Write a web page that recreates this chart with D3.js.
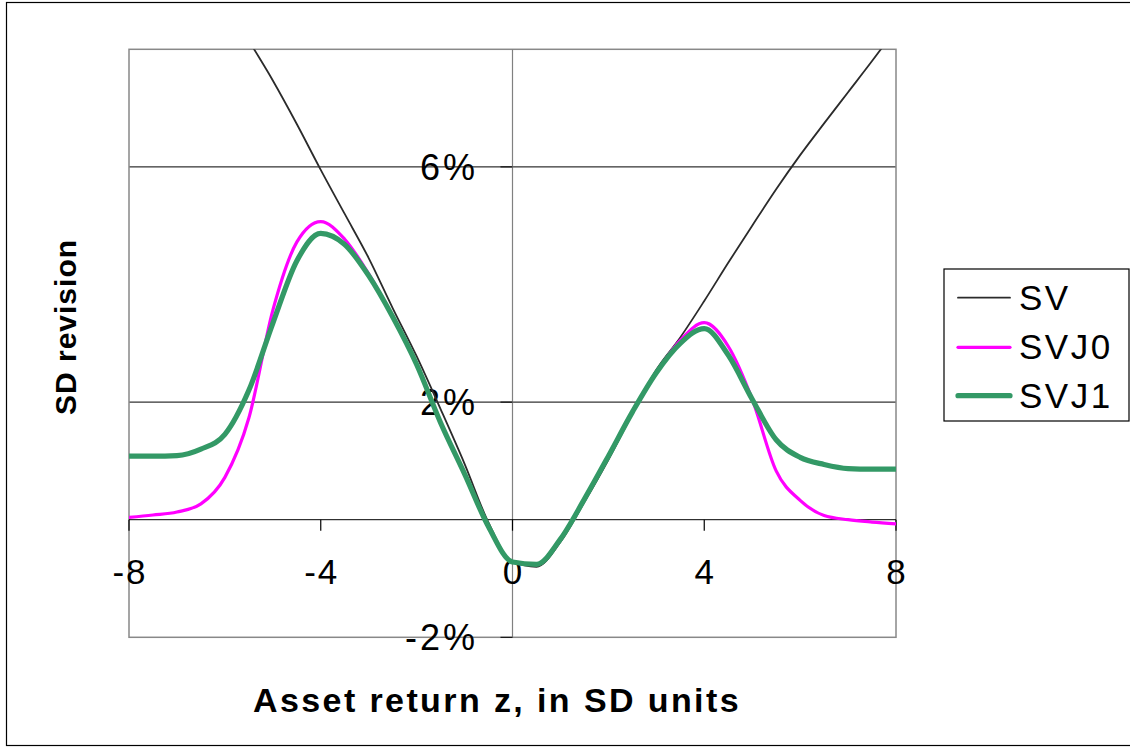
<!DOCTYPE html>
<html><head><meta charset="utf-8">
<script src="https://cdn.jsdelivr.net/npm/d3@7"></script>
<style>
html,body{margin:0;padding:0;background:#fff;}
svg{display:block;font-family:"Liberation Sans",Arial,sans-serif;}
</style></head>
<body><svg id="c" width="1130" height="748"></svg>
<script>
// ---- data ----
const zValues = [-8,-7.5,-7,-6.5,-6,-5.5,-5,-4.5,-4,-3.5,-3,-2.5,-2,-1.5,-1,-0.5,0,0.5,1,1.5,2,2.5,3,3.5,4,4.5,5,5.5,6,6.5,7,7.5,8];
const svValues   = [11.6,10.9,10.2,9.5,8.85,8.15,7.47,6.73,5.95,5.2,4.45,3.6,2.78,1.88,0.95,-0.05,-0.72,-0.8,-0.38,0.3,1.02,1.8,2.55,3.1,3.72,4.37,5.0,5.62,6.2,6.74,7.27,7.8,8.35];
const svj0Values = [0.04,0.08,0.13,0.27,0.72,1.73,3.56,4.72,5.07,4.77,4.18,3.45,2.64,1.65,0.78,-0.12,-0.72,-0.76,-0.33,0.35,1.08,1.83,2.5,3.05,3.35,2.95,2.05,0.83,0.33,0.07,0.0,-0.04,-0.07];
const svj1Values = [1.08,1.08,1.09,1.2,1.45,2.2,3.34,4.4,4.87,4.68,4.15,3.45,2.64,1.65,0.78,-0.12,-0.72,-0.76,-0.33,0.35,1.08,1.83,2.5,3.0,3.25,2.8,2.05,1.36,1.06,0.94,0.87,0.86,0.86];
const seriesNames = ["SV","SVJ0","SVJ1"];
const xTicks = [-8,-4,0,4,8];
const yTicks = [-2,2,6];
const yTickLabels = ["-2%","2%","6%"];
const xTitle = "Asset return z, in SD units";
const yTitle = "SD revision";

// ---- layout ----
const svg = d3.select("#c");
const L=129, R=896, T=49.3, B=637.3;
const x = d3.scaleLinear().domain([-8,8]).range([L,R]);
const y = d3.scaleLinear().domain([-2,8]).range([B,T]);

// outer border
svg.append("rect").attr("x",6.5).attr("y",2.5).attr("width",1130).attr("height",743)
  .attr("fill","none").attr("stroke","#000").attr("stroke-width",1.2);

// gridlines
svg.append("g").selectAll("line").data(yTicks.filter(d=>d>-2)).join("line")
  .attr("x1",L).attr("x2",R).attr("y1",d=>y(d)).attr("y2",d=>y(d))
  .attr("stroke","#000").attr("stroke-width",1);

// plot border
svg.append("rect").attr("x",L).attr("y",T).attr("width",R-L).attr("height",B-T)
  .attr("fill","none").attr("stroke","#888").attr("stroke-width",1.5);

// y axis at z=0
svg.append("line").attr("x1",x(0)).attr("x2",x(0)).attr("y1",T).attr("y2",B)
  .attr("stroke","#808080").attr("stroke-width",1.2);
svg.append("g").selectAll("line").data(yTicks).join("line")
  .attr("x1",x(0)-12).attr("x2",x(0)).attr("y1",d=>y(d)).attr("y2",d=>y(d))
  .attr("stroke","#000").attr("stroke-width",1);
svg.append("g").selectAll("text").data(yTicks).join("text")
  .attr("x",478).attr("y",d=>y(d)+13).attr("text-anchor","end")
  .attr("font-size",36).attr("letter-spacing",3).text((d,i)=>yTickLabels[i]);

// x axis at 0%
svg.append("line").attr("x1",L).attr("x2",R).attr("y1",y(0)).attr("y2",y(0))
  .attr("stroke","#000").attr("stroke-width",1);
svg.append("g").selectAll("line").data(xTicks).join("line")
  .attr("x1",d=>x(d)).attr("x2",d=>x(d)).attr("y1",y(0)).attr("y2",y(0)+11)
  .attr("stroke","#000").attr("stroke-width",1.2);
svg.append("g").selectAll("text").data(xTicks).join("text")
  .attr("x",d=>x(d)+1).attr("y",584).attr("text-anchor","middle")
  .attr("font-size",35).attr("letter-spacing",2).text(d=>d);

// clip
svg.append("clipPath").attr("id","clip").append("rect")
  .attr("x",L).attr("y",T).attr("width",R-L).attr("height",B-T);

const line = vals => d3.line().x((d,i)=>x(zValues[i])).y(d=>y(d)).curve(d3.curveMonotoneX)(vals);
const styles = [
  {vals:svValues, color:"#2b2b2b", w:1.8},
  {vals:svj0Values, color:"#ff00ff", w:3.2},
  {vals:svj1Values, color:"#339966", w:5.2}
];
const g = svg.append("g").attr("clip-path","url(#clip)");
styles.forEach(s=>{
  g.append("path").attr("d",line(s.vals)).attr("fill","none")
   .attr("stroke",s.color).attr("stroke-width",s.w).attr("stroke-linejoin","round").attr("stroke-linecap","round");
});

// titles
svg.append("text").attr("x",497).attr("y",712).attr("text-anchor","middle")
  .attr("font-size",34).attr("font-weight","bold").attr("letter-spacing",2.4).text(xTitle);
svg.append("text").attr("transform","translate(76,327) rotate(-90)").attr("text-anchor","middle")
  .attr("font-size",30).attr("font-weight","bold").attr("letter-spacing",1).text(yTitle);

// legend
const lg = svg.append("g");
lg.append("rect").attr("x",944).attr("y",269).attr("width",185).attr("height",152)
  .attr("fill","#fff").attr("stroke","#000").attr("stroke-width",1.2);
const ly = [297.7,347.3,395.7];
styles.forEach((s,i)=>{
  lg.append("line").attr("x1",958).attr("x2",1010).attr("y1",ly[i]).attr("y2",ly[i])
    .attr("stroke",s.color).attr("stroke-width",s.w).attr("stroke-linecap","round");
  lg.append("text").attr("x",1019).attr("y",ly[i]+12).attr("font-size",35)
    .attr("letter-spacing",2.5).text(seriesNames[i]);
});
</script></body></html>
